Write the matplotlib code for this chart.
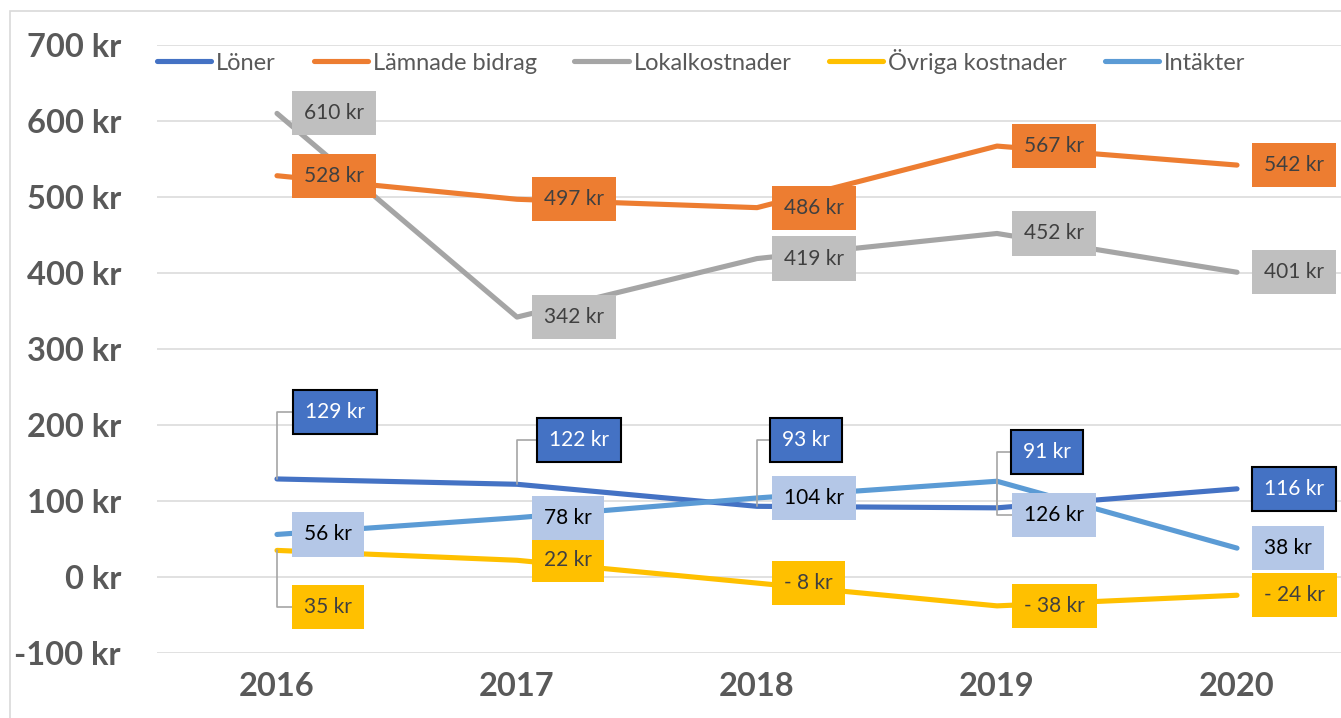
import matplotlib.pyplot as plt
from matplotlib.patches import Rectangle

plt.rcParams['font.family'] = ['Lato', 'DejaVu Sans']

years = ['2016', '2017', '2018', '2019', '2020']
series_names = ['Löner', 'Lämnade bidrag', 'Lokalkostnader', 'Övriga kostnader', 'Intäkter']
loner = [129, 122, 93, 91, 116]
lamnade_bidrag = [528, 497, 486, 567, 542]
lokalkostnader = [610, 342, 419, 452, 401]
ovriga_kostnader = [35, 22, -8, -38, -24]
intakter = [56, 78, 104, 126, 38]
y_ticks = [-100, 0, 100, 200, 300, 400, 500, 600, 700]

line_colors = ['#4472C4', '#ED7D31', '#A5A5A5', '#FFC000', '#5B9BD5']
box_colors = ['#4472C4', '#ED7D31', '#BFBFBF', '#FFC000', '#B4C7E7']
text_colors = ['white', '#404040', '#404040', '#404040', 'black']
edge_colors = ['black', 'none', 'none', 'none', 'none']

# label offsets in pixels (default: right of the point)
default_off = (27, 0)
special_off = {
    (0, 0): (28, 67), (0, 1): (32, 44), (0, 2): (25, 66), (0, 3): (26, 56),
    (4, 3): (27, -34), (3, 0): (27, -57),
}

def fmt(v):
    return f'- {abs(v)} kr' if v < 0 else f'{v} kr'

W, H = 1341, 718
fig = plt.figure(figsize=(W / 100, H / 100), dpi=100)
ax = fig.add_axes([157 / W, 65 / H, 1200 / W, 608 / H])

all_series = [loner, lamnade_bidrag, lokalkostnader, ovriga_kostnader, intakter]
x = list(range(len(years)))
for i, (name, vals) in enumerate(zip(series_names, all_series)):
    ax.plot(x, vals, color=line_colors[i], lw=3.7, solid_capstyle='round',
            label=name, zorder=3 + i)

for i, vals in enumerate(all_series):
    for j, v in enumerate(vals):
        off = special_off.get((i, j), default_off)
        kw = {}
        if (i, j) in special_off:
            kw['arrowprops'] = dict(arrowstyle='-', color='#A6A6A6', lw=1.2,
                                    shrinkA=0, shrinkB=0, relpos=(0, 0.5),
                                    connectionstyle='angle,angleA=0,angleB=90,rad=0')
        ax.annotate(fmt(v), xy=(j, v), xytext=off, textcoords='offset pixels',
                    ha='left', va='center', fontsize=15, color=text_colors[i],
                    bbox=dict(boxstyle='square,pad=0.58', fc=box_colors[i],
                              ec=edge_colors[i], lw=1.5),
                    zorder=20, **kw)

ax.set_xlim(-0.5, 4.5)
ax.set_ylim(-100, 700)
ax.set_xticks(x)
ax.set_xticklabels(years)
ax.set_yticks(y_ticks)
ax.set_yticklabels([f'{t} kr' for t in y_ticks])
ax.tick_params(length=0, labelsize=23.5, labelcolor='#595959')
ax.tick_params(axis='y', pad=26)
ax.tick_params(axis='x', pad=14)
for lab in ax.get_xticklabels() + ax.get_yticklabels():
    lab.set_fontweight('bold')
ax.grid(axis='y', color='#D9D9D9', lw=1.1)
ax.set_axisbelow(True)
for s in ax.spines.values():
    s.set_visible(False)

leg = ax.legend(loc='center left', bbox_to_anchor=(157 / W, 1 - 61 / H),
                bbox_transform=fig.transFigure, ncol=5, frameon=False,
                fontsize=17, handlelength=2.3, handletextpad=0.2,
                columnspacing=1.6, borderpad=0, borderaxespad=0)
for t in leg.get_texts():
    t.set_color('#595959')

fig.patches.append(Rectangle((10 / W, -0.1), 1.2, 1 - 11 / H + 0.1,
                             transform=fig.transFigure, fill=False,
                             ec='#D9D9D9', lw=1.2))

fig.savefig('out.png', dpi=100)
